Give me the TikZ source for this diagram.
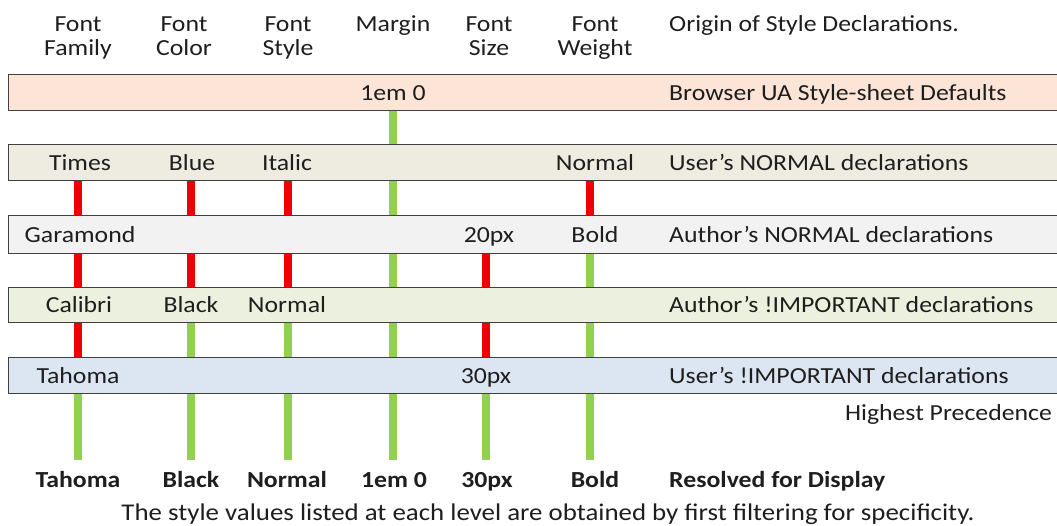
\documentclass[tikz,border=0pt]{standalone}
\usepackage{fontspec}
\setmainfont{Carlito}[FakeStretch=1.12]
\usetikzlibrary{backgrounds}
\definecolor{bandA}{HTML}{FCE4D6}
\definecolor{bandB}{HTML}{EEECE1}
\definecolor{bandC}{HTML}{F2F2F2}
\definecolor{bandD}{HTML}{EBF1DE}
\definecolor{bandE}{HTML}{DCE6F2}
\definecolor{bordc}{HTML}{404040}
\definecolor{txtc}{HTML}{1E1E1E}
\definecolor{barred}{HTML}{F00000}
\definecolor{bargreen}{HTML}{92D050}
\begin{document}
\begin{tikzpicture}[x=1pt,y=-1pt,
  band/.style={draw=bordc, line width=1.3pt, minimum width=1075pt, minimum height=36pt, inner sep=0pt, anchor=north west},
  txt/.style={font=\fontsize{23}{24}\selectfont, text=txtc, inner sep=0pt, text height=15pt, text depth=0pt},
  hdr/.style={font=\fontsize{23}{24}\selectfont, text=txtc, inner sep=0pt, align=center, anchor=base},
  res/.style={font=\fontsize{23}{24}\selectfont\bfseries, text=txtc, inner sep=0pt, anchor=base},
  redbar/.style={draw=barred, line width=7.5pt},
  greenbar/.style={draw=bargreen, line width=7.5pt}]
\useasboundingbox (0,0) rectangle (1057,525);
% column coordinates
\coordinate (cF) at (78,0);
\coordinate (cC) at (191,0);
\coordinate (cS) at (288,0);
\coordinate (cM) at (393,0);
\coordinate (cZ) at (486,0);
\coordinate (cW) at (590,0);
\coordinate (cL) at (669,0);
\coordinate (endrow) at (0,460);
% header (base = last line)
\node[hdr] (hF) at (78,55) {Font\\Family};
\node[hdr] (hC) at (184,55) {Font\\Color};
\node[hdr] (hS) at (288,55) {Font\\Style};
\node[hdr] (hM) at (393,31) {Margin};
\node[hdr] (hZ) at (489,55) {Font\\Size};
\node[hdr] (hW) at (595,55) {Font\\Weight};
\node[hdr, anchor=base west] (hO) at (669,31) {Origin of Style Declarations.};
% bands
\node[band, fill=bandA] (b1) at (8,74) {};
\node[band, fill=bandB] (b2) at (8,144) {};
\node[band, fill=bandC, minimum height=38pt] (b3) at (8,215) {};
\node[band, fill=bandD, minimum height=35pt] (b4) at (8,287) {};
\node[band, fill=bandE] (b5) at (8,357) {};
% bars
\begin{scope}[on background layer]
\draw[redbar] (cF |- b2.south) -- (cF |- b5.north);
\draw[greenbar] (cF |- b5.south) -- (cF |- endrow);
\draw[redbar] (cC |- b2.south) -- (cC |- b4.north);
\draw[greenbar] (cC |- b4.south) -- (cC |- endrow);
\draw[redbar] (cS |- b2.south) -- (cS |- b4.north);
\draw[greenbar] (cS |- b4.south) -- (cS |- endrow);
\draw[greenbar] (cM |- b1.south) -- (cM |- endrow);
\draw[redbar] (cZ |- b3.south) -- (cZ |- b5.north);
\draw[greenbar] (cZ |- b5.south) -- (cZ |- endrow);
\draw[redbar] (cW |- b2.south) -- (cW |- b3.north);
\draw[greenbar] (cW |- b3.south) -- (cW |- endrow);
\end{scope}
% band 1
\node[txt] (v1M) at (cM |- b1) {1em 0};
\node[txt, anchor=west] (l1) at (cL |- b1) {Browser UA Style-sheet Defaults};
% band 2
\node[txt] (v2F) at ([xshift=2pt]cF |- b2) {Times};
\node[txt] (v2C) at ([xshift=1pt]cC |- b2) {Blue};
\node[txt] (v2S) at ([xshift=-1pt]cS |- b2) {Italic};
\node[txt] (v2W) at ([xshift=5pt]cW |- b2) {Normal};
\node[txt, anchor=west] (l2) at (cL |- b2) {User’s NORMAL declarations};
% band 3
\node[txt] (v3F) at ([xshift=2pt]cF |- b3) {Garamond};
\node[txt] (v3Z) at ([xshift=3pt]cZ |- b3) {20px};
\node[txt] (v3W) at ([xshift=5pt]cW |- b3) {Bold};
\node[txt, anchor=west] (l3) at (cL |- b3) {Author’s NORMAL declarations};
% band 4
\node[txt] (v4F) at ([xshift=1pt]cF |- b4) {Calibri};
\node[txt] (v4C) at (cC |- b4) {Black};
\node[txt] (v4S) at ([xshift=-1pt]cS |- b4) {Normal};
\node[txt, anchor=west] (l4) at (cL |- b4) {Author’s !IMPORTANT declarations};
% band 5
\node[txt] (v5F) at (cF |- b5) {Tahoma};
\node[txt] (v5Z) at (cZ |- b5) {30px};
\node[txt, anchor=west] (l5) at (cL |- b5) {User’s !IMPORTANT declarations};
\node[hdr, anchor=base east] (hp) at (1052,420) {Highest Precedence};
% resolved row
\node[res] (rF) at (78,487) {Tahoma};
\node[res] (rC) at (191,487) {Black};
\node[res] (rS) at (287,487) {Normal};
\node[res] (rM) at (394,487) {1em 0};
\node[res] (rZ) at (487,487) {30px};
\node[res] (rW) at (595,487) {Bold};
\node[res, anchor=base west] (rL) at (669,487) {Resolved for Display};
% caption
\node[hdr, font=\fontsize{24}{25}\selectfont] (cap) at (548,520) {The style values listed at each level are obtained by first filtering for specificity.};
\end{tikzpicture}
\end{document}
